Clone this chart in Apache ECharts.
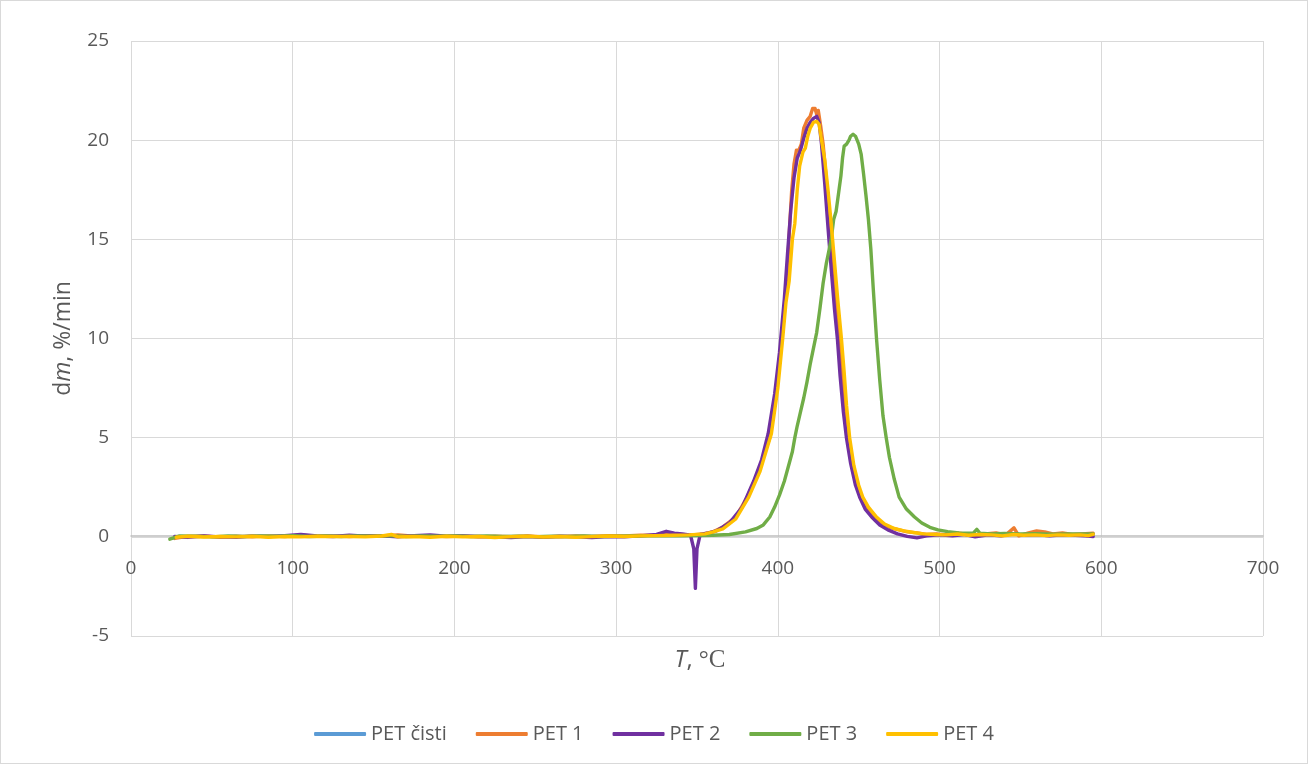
<!DOCTYPE html>
<html>
<head>
<meta charset="utf-8">
<script src="https://cdn.jsdelivr.net/npm/echarts@6/dist/echarts.min.js"></script>
<style>
  html, body { margin: 0; padding: 0; background: #fff; }
  #chart { width: 1308px; height: 764px; box-sizing: border-box; border: 1px solid #d9d9d9; }
</style>
</head>
<body>
<div id="chart"></div>
<script>
// DTG curves: temperature (°C) vs mass-loss rate dm (%/min)
const seriesNames = ['PET čisti', 'PET 1', 'PET 2', 'PET 3', 'PET 4'];
const seriesColors = ['#5B9BD5', '#ED7D31', '#7030A0', '#70AD47', '#FFC000'];

const xTicks = { min: 0, max: 700, step: 100 };
const yTicks = { min: -5, max: 25, step: 5 };

const petCisti = [];

const pet1 = [
  [27,-0.08],[35,0.02],[45,0.05],[55,-0.02],[65,0.03],[75,0.0],[85,0.05],[95,0.02],[105,0.08],[115,0.03],
  [125,0.05],[135,0.02],[145,0.06],[155,0.04],[165,0.1],[175,0.03],[185,0.05],[195,0.02],[205,0.04],[215,0.0],
  [225,0.03],[235,0.01],[245,0.04],[255,0.0],[265,0.02],[275,0.05],[285,0.02],[295,0.06],[305,0.04],[315,0.08],
  [325,0.1],[333,0.18],[340,0.12],[347,0.1],[354,0.15],[360,0.25],[366,0.5],[374,1.0],[381,2.0],[388,3.3],
  [395,5.0],[399,7.2],[402,9.6],[404,11.3],[405.5,12.8],[407,15.2],[408.5,17.4],[410,18.8],[411.5,19.5],[413,19.5],
  [414.5,19.8],[416,20.6],[418,21.0],[420,21.2],[421.5,21.6],[423,21.6],[424,21.3],[425,21.5],[426.5,20.7],[428,19.8],
  [430,18.0],[432,15.8],[434,13.6],[436,11.6],[438,9.8],[440,7.8],[442,6.1],[443.5,5.0],[446,3.7],[449,2.7],
  [451.5,2.0],[455,1.5],[459.5,1.0],[465,0.65],[470,0.45],[475,0.35],[480,0.25],[486,0.2],[492,0.12],[498,0.15],
  [505,0.1],[512,0.18],[520,0.1],[528,0.15],[535,0.2],[541,0.1],[546,0.45],[549,0.05],[555,0.2],[560,0.3],
  [565,0.25],[570,0.15],[576,0.2],[582,0.12],[588,0.15],[595,0.18]
];

const pet2 = [
  [27,0.02],[35,-0.03],[45,0.04],[55,0.0],[65,-0.02],[75,0.05],[85,0.01],[95,0.06],[105,0.12],[115,0.04],
  [125,0.02],[135,0.08],[145,0.03],[155,0.05],[165,0.0],[175,0.06],[185,0.1],[195,0.03],[205,0.05],[215,0.02],
  [225,0.0],[235,-0.03],[245,0.02],[255,-0.02],[265,0.03],[275,0.0],[285,-0.04],[295,0.02],[305,0.0],[315,0.05],
  [325,0.12],[331,0.28],[336,0.18],[341,0.15],[346,0.08],[348,-0.6],[349,-2.6],[350,-0.6],[352,0.12],[357,0.2],
  [362,0.3],[370,0.7],[378,1.5],[385,2.8],[390,3.9],[394,5.2],[398,7.2],[401,9.3],[404,12.0],[406,14.3],
  [408,16.5],[410,18.1],[412,19.1],[414,19.5],[416,20.1],[418,20.6],[420,20.9],[422,21.1],[424,21.2],[425.5,20.9],
  [427,19.8],[429,17.8],[431,15.6],[433,13.5],[435,11.5],[436.8,10.0],[438.5,8.1],[440.5,6.3],[442.4,5.0],[445,3.7],
  [448,2.6],[450.6,2.0],[454,1.4],[458,1.0],[463,0.6],[468,0.35],[474,0.15],[480,0.02],[486,-0.05],[492,0.05],
  [500,0.1],[508,0.05],[515,0.12],[522,0.0],[530,0.1],[538,0.05],[545,0.15],[552,0.08],[560,0.12],[568,0.05],
  [576,0.1],[584,0.08],[590,0.05],[595,0.02]
];

const pet3 = [
  [24,-0.12],[30,0.05],[40,0.03],[50,0.0],[60,0.04],[70,0.02],[80,0.05],[90,0.03],[100,0.06],[110,0.02],
  [120,0.04],[130,0.02],[140,0.05],[150,0.03],[160,0.06],[170,0.02],[180,0.04],[190,0.03],[200,0.05],[210,0.02],
  [220,0.04],[230,0.02],[240,0.03],[250,0.01],[260,0.03],[270,0.02],[280,0.04],[290,0.02],[300,0.03],[310,0.04],
  [320,0.05],[330,0.06],[340,0.05],[350,0.06],[360,0.08],[370,0.12],[380,0.25],[387,0.42],[391,0.6],[395,1.0],
  [398,1.5],[401,2.1],[404,2.8],[407,3.7],[409,4.3],[410.5,5.0],[412,5.6],[414,6.3],[416,7.0],[418,7.8],
  [420,8.7],[422,9.5],[424,10.3],[426,11.5],[428,12.8],[430,13.8],[432,14.6],[433,15.0],[434.5,16.0],[436,16.4],
  [437,17.0],[438,17.6],[439,18.2],[440,19.1],[441,19.7],[442.5,19.8],[444,20.0],[445,20.2],[446.5,20.3],[448,20.2],
  [450,19.8],[451.5,19.3],[453,18.3],[454.5,17.2],[456,16.0],[457.5,14.5],[459,12.5],[461,10.0],[463,7.9],[465,6.1],
  [467,5.0],[469,4.0],[472,2.9],[475,2.0],[479.5,1.4],[484.5,1.0],[489,0.7],[494,0.48],[499,0.35],[505,0.26],
  [512,0.2],[517,0.18],[521,0.2],[523,0.38],[525,0.18],[532,0.15],[540,0.17],[550,0.14],[560,0.16],[570,0.13],
  [580,0.15],[590,0.14],[595,0.15]
];

const pet4 = [
  [28,-0.02],[35,0.03],[45,-0.01],[55,0.02],[65,0.0],[75,0.03],[85,-0.02],[95,0.02],[105,0.0],[115,0.03],
  [125,0.01],[135,0.02],[145,0.0],[155,0.04],[161,0.12],[165,0.0],[175,0.02],[185,-0.02],[195,0.03],[205,0.0],
  [215,0.02],[225,-0.03],[235,0.01],[245,0.03],[255,-0.01],[265,0.02],[275,-0.02],[285,0.01],[295,0.04],[305,0.02],
  [315,0.05],[325,0.06],[335,0.08],[345,0.1],[355,0.15],[360,0.25],[366,0.4],[374,0.9],[382,2.0],[389,3.3],
  [396,5.2],[400,7.5],[403,10.0],[405,11.8],[407,12.9],[409,15.0],[410.5,15.8],[412,17.5],[413.5,18.7],[415.5,19.4],
  [417,19.6],[418.5,20.2],[420,20.6],[422,20.9],[424,20.95],[425.5,20.8],[427,20.0],[429,19.0],[431,17.5],[433,15.8],
  [435,13.9],[437,12.0],[439.3,10.0],[441,8.3],[442.5,6.6],[444.4,5.0],[447,3.6],[450,2.6],[452.5,2.0],[456,1.5],
  [461,1.0],[466,0.65],[472,0.42],[478,0.3],[484,0.22],[490,0.15],[497,0.12],[504,0.1],[511,0.14],[518,0.08],
  [525,0.12],[532,0.1],[539,0.05],[546,0.12],[552,0.08],[559,0.1],[566,0.06],[573,0.1],[580,0.08],[587,0.1],
  [592,0.06],[595,0.12]
];

const seriesData = [petCisti, pet1, pet2, pet3, pet4];

const chart = echarts.init(document.getElementById('chart'));
const axisTextColor = '#595959';
const fontFamily = '"Open Sans", "Noto Sans", sans-serif';

chart.setOption({
  animation: false,
  backgroundColor: '#fff',
  grid: { left: 130, right: 44, top: 40, bottom: 127, containLabel: false },
  legend: {
    top: 718,
    left: 'center',
    itemWidth: 52,
    itemHeight: 4,
    itemGap: 29,
    icon: 'roundRect',
    textStyle: { color: axisTextColor, fontSize: 20, fontFamily: fontFamily },
    data: seriesNames
  },
  xAxis: {
    type: 'value',
    min: xTicks.min,
    max: xTicks.max,
    interval: xTicks.step,
    // horizontal axis crosses the value axis at 0 (100 px above the plot bottom)
    offset: -100,
    axisLine: { onZero: false, lineStyle: { color: '#bfbfbf', width: 1.5 } },
    axisTick: { show: false },
    axisLabel: { color: axisTextColor, fontSize: 19, fontFamily: fontFamily, margin: 23 },
    splitLine: { show: true, lineStyle: { color: '#d9d9d9', width: 1 } }
  },
  yAxis: {
    type: 'value',
    min: yTicks.min,
    max: yTicks.max,
    interval: yTicks.step,
    axisLine: { show: false },
    axisTick: { show: false },
    axisLabel: { color: axisTextColor, fontSize: 19, fontFamily: fontFamily, margin: 22 },
    splitLine: { show: true, lineStyle: { color: '#d9d9d9', width: 1 } },
    name: '{n|d}{i|m}{n|, %/min}',
    nameLocation: 'middle',
    nameGap: 56,
    nameRotate: 90,
    nameTextStyle: {
      rich: {
        n: { color: axisTextColor, fontSize: 23, fontFamily: fontFamily },
        i: { color: axisTextColor, fontSize: 23, fontFamily: fontFamily, fontStyle: 'italic' }
      }
    }
  },
  graphic: [{
    type: 'text',
    x: 699,
    y: 659,
    style: {
      text: '{i|T}{s|, }{c|°C}',
      align: 'center',
      verticalAlign: 'middle',
      rich: {
        i: { fill: axisTextColor, fontSize: 24, fontFamily: fontFamily, fontStyle: 'italic' },
        s: { fill: axisTextColor, fontSize: 24, fontFamily: fontFamily },
        c: { fill: axisTextColor, fontSize: 25, fontFamily: '"Liberation Serif", serif' }
      }
    }
  }],
  series: seriesNames.map((name, i) => ({
    name: name,
    type: 'line',
    data: seriesData[i],
    showSymbol: false,
    symbol: 'none',
    smooth: false,
    color: seriesColors[i],
    lineStyle: { width: 3.4, color: seriesColors[i], cap: 'round', join: 'round' },
    z: 2 + i
  }))
});
</script>
</body>
</html>
